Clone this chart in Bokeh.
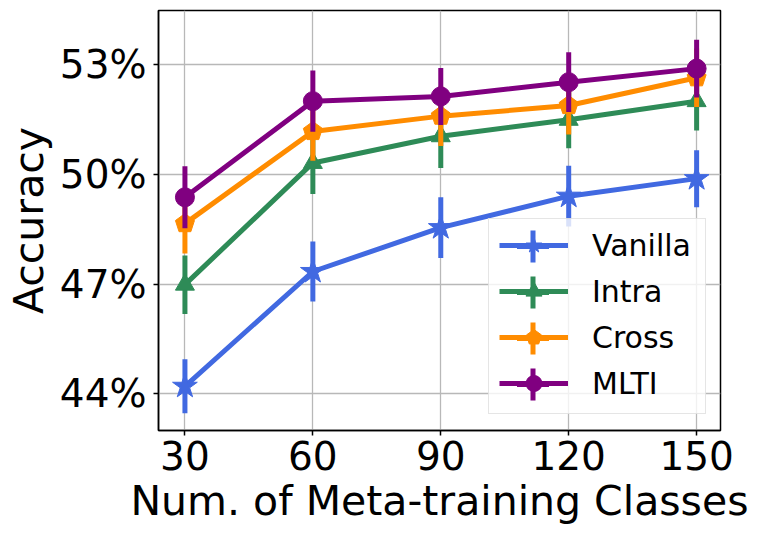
from bokeh.plotting import figure
from bokeh.models import Range1d, FixedTicker, PrintfTickFormatter, Legend, LegendItem, ColumnDataSource
from bokeh.embed import file_html
from bokeh.resources import INLINE

classes = [30, 60, 90, 120, 150]

vanilla = [44.21, 47.35, 48.55, 49.41, 49.89]
vanilla_err = [0.74, 0.82, 0.83, 0.83, 0.78]
intra = [46.99, 50.32, 51.05, 51.50, 52.01]
intra_err = [0.80, 0.85, 0.87, 0.78, 0.80]
cross = [48.66, 51.18, 51.60, 51.89, 52.65]
cross_err = [0.82, 0.80, 0.82, 0.79, 0.80]
mlti = [49.38, 52.01, 52.14, 52.53, 52.90]
mlti_err = [0.85, 0.84, 0.78, 0.82, 0.79]

y_ticks = [44, 47, 50, 53]
x_ticks = [30, 60, 90, 120, 150]

series = [
    ("Vanilla", vanilla, vanilla_err, "#4169E1", "star"),
    ("Intra", intra, intra_err, "#2E8B57", "triangle"),
    ("Cross", cross, cross_err, "#FF8C00", "pentagon"),
    ("MLTI", mlti, mlti_err, "#800080", "circle"),
]

FONT = "DejaVu Sans"

p = figure(width=753, height=528, output_backend="svg", toolbar_location=None,
           x_range=Range1d(23.8, 155.6), y_range=Range1d(43.0, 54.49),
           min_border_left=158, min_border_right=33, min_border_top=10, min_border_bottom=98)

p.background_fill_color = "white"
p.border_fill_color = "white"
p.outline_line_color = "black"
p.outline_line_width = 1.5

p.xaxis.ticker = FixedTicker(ticks=x_ticks)
p.yaxis.ticker = FixedTicker(ticks=y_ticks)
p.yaxis.formatter = PrintfTickFormatter(format="%d%%")

for ax in (p.xaxis, p.yaxis):
    ax.axis_line_color = "black"
    ax.axis_line_width = 1.5
    ax.major_tick_out = 5
    ax.major_tick_in = 0
    ax.minor_tick_out = 0
    ax.minor_tick_in = 0
    ax.major_tick_line_color = "black"
    ax.major_tick_line_width = 1.5
    ax.major_label_text_font = FONT
    ax.major_label_text_font_size = "39px"
    ax.major_label_text_color = "black"
    ax.axis_label_text_font = FONT
    ax.axis_label_text_font_size = "41px"
    ax.axis_label_text_font_style = "normal"
    ax.axis_label_text_color = "black"

p.xaxis.axis_label = "Num. of Meta-training Classes"
p.yaxis.axis_label = "Accuracy"
p.xaxis.major_label_standoff = 5
p.xaxis.axis_label_standoff = 4
p.yaxis.major_label_standoff = 7
p.yaxis.axis_label_standoff = 4

p.grid.grid_line_color = "#b8b8b8"
p.grid.grid_line_width = 1.3

items = []
bar_renderers = []
for name, vals, errs, color, marker in series:
    src = ColumnDataSource(dict(
        x=classes, y=vals,
        lo=[v - e for v, e in zip(vals, errs)],
        hi=[v + e for v, e in zip(vals, errs)],
    ))
    p.segment(x0="x", y0="lo", x1="x", y1="hi", source=src, line_color=color, line_width=5)
    r_line = p.line("x", "y", source=src, line_color=color, line_width=5)
    if marker == "pentagon":
        try:
            r_mark = p.ngon(x="x", y="y", radius=10, radius_units="screen", n=5,
                            angle=0, fill_color=color, line_color=color, source=src)
        except Exception:
            r_mark = p.scatter("x", "y", source=src, marker="hex", size=18,
                               fill_color=color, line_color=color)
    else:
        r_mark = p.scatter("x", "y", source=src, marker=marker,
                           size=26 if marker == "star" else 19,
                           fill_color=color, line_color=color)
    # zero-size marker used only to draw the vertical error bar in the legend
    r_bar = p.scatter("x", "y", source=src, marker="cross", size=0,
                      line_color=color, line_width=5)
    items.append(LegendItem(label=name, renderers=[r_line, r_mark]))
    bar_renderers.append(r_bar)

# main legend geometry (screen px, relative to frame bottom-left)
LEG_X, LEG_Y = 330, 16
PAD_L, PAD_R, PAD_T, PAD_B = 10, 14, 6, 10
GW, GH, SP = 69, 40, 6

legend = Legend(items=items, location=(LEG_X, LEG_Y), margin=0,
                glyph_width=GW, glyph_height=GH, label_height=GH, spacing=SP,
                padding=dict(left=PAD_L, right=PAD_R, top=PAD_T, bottom=PAD_B),
                label_standoff=24,
                label_text_font=FONT, label_text_font_size="30px", label_text_color="black",
                border_line_color="#cccccc", border_line_width=1.5,
                background_fill_color="white", background_fill_alpha=0.8)
p.add_layout(legend, "center")

# vertical error-bar strokes of the legend entries
BW, BH = 81, 80
n = len(series)
cx = LEG_X + PAD_L + GW / 2
for i, r_bar in enumerate(bar_renderers):
    cy = LEG_Y + PAD_B + (n - 1 - i) * (GH + SP) + GH / 2
    lb = Legend(items=[LegendItem(label=" ", renderers=[r_bar])],
                location=(cx - BW / 2, cy - BH / 2), margin=0,
                glyph_width=BW, glyph_height=BH, label_height=BH, spacing=0,
                padding=0, label_standoff=0,
                label_text_font=FONT, label_text_font_size="10px", label_text_alpha=0,
                border_line_color=None, background_fill_alpha=0)
    p.add_layout(lb, "center")

open("out.html", "w").write(file_html(p, INLINE))
